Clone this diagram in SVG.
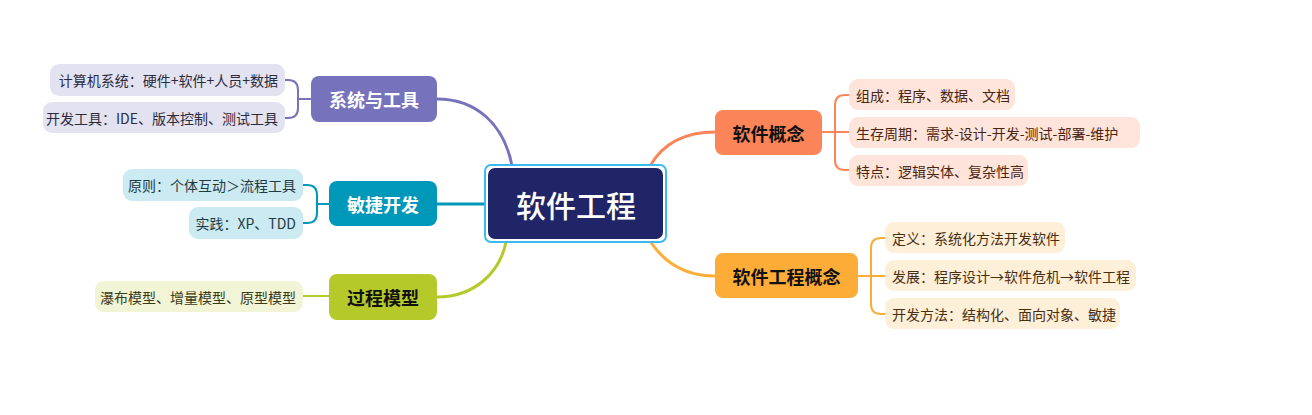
<svg xmlns="http://www.w3.org/2000/svg" width="1312" height="415" viewBox="0 0 1312 415">
<style>
text{font-family:"Noto Sans CJK SC","Noto Sans",sans-serif;text-anchor:middle;dominant-baseline:central}
.sub{font-size:14px}
.l{text-anchor:start}
.r{text-anchor:end}
.main{font-size:18px;font-weight:bold}
.conn{fill:none;stroke-width:3;stroke-linecap:round}
.br{fill:none;stroke-width:2}
</style>
<rect width="1312" height="415" fill="#ffffff"/>
<g id="connectors">
<path class="conn" stroke="#7672bc" d="M437,99 C476,99 504,124 512,166"/>
<path class="conn" stroke="#0098b8" d="M437,204 L487,204"/>
<path class="conn" stroke="#b6c92b" d="M437,297 C475,297 500,272 506,242"/>
<path class="conn" stroke="#fb8458" d="M650,166 C662,145 682,132 715,132"/>
<path class="conn" stroke="#fdac37" d="M650,241 C665,264 686,276 715,276"/>
<path class="br" stroke="#7672bc" d="M285,80 H288 Q298,80 298,90 V108 Q298,118 288,118 H285 M298,99 H311"/>
<path class="br" stroke="#0098b8" d="M303,185 H307 Q317,185 317,195 V213 Q317,223 307,223 H303 M317,204 H329"/>
<path class="br" stroke="#b6c92b" d="M303,296 H329"/>
<path class="br" stroke="#fb8458" d="M849,95 H845 Q835,95 835,105 V160 Q835,170 845,170 H849 M822,132 H849"/>
<path class="br" stroke="#fdac37" d="M885,238 H881 Q871,238 871,248 V304 Q871,314 881,314 H885 M858,276 H885"/>
</g>
<g id="center">
<rect x="485" y="165" width="181" height="77" rx="6" fill="#ffffff" stroke="#3cb9f0" stroke-width="2"/>
<rect x="488" y="168" width="175" height="71" rx="7" fill="#1f2566"/>
<text x="576" y="204" font-size="30" font-weight="500" fill="#ffffff">软件工程</text>
</g>
<g id="sys">
<rect x="311" y="76" width="126" height="46" rx="8" fill="#7672bc"/>
<text class="main" x="374" y="99" fill="#ffffff">系统与工具</text>
</g>
<g id="sys1">
<rect x="50" y="64" width="235" height="32" rx="9" fill="#e3e2f1"/>
<text class="sub r" x="278" y="80" fill="#2b2b3c">计算机系统：硬件+软件+人员+数据</text>
</g>
<g id="sys2">
<rect x="43" y="102" width="242" height="31" rx="9" fill="#e3e2f1"/>
<text class="sub r" x="278" y="117.5" fill="#2b2b3c">开发工具：IDE、版本控制、测试工具</text>
</g>
<g id="agile">
<rect x="329" y="181" width="108" height="45" rx="8" fill="#0098b8"/>
<text class="main" x="383" y="203.5" fill="#ffffff">敏捷开发</text>
</g>
<g id="agile1">
<rect x="123" y="169" width="180" height="32" rx="9" fill="#cceaf2"/>
<text class="sub r" x="296" y="185" fill="#1e3a42">原则：个体互动＞流程工具</text>
</g>
<g id="agile2">
<rect x="189" y="207" width="114" height="32" rx="9" fill="#cceaf2"/>
<text class="sub r" x="296" y="223" fill="#1e3a42">实践：XP、TDD</text>
</g>
<g id="process">
<rect x="329" y="274" width="108" height="46" rx="8" fill="#b6c92b"/>
<text class="main" x="383" y="297" fill="#111111">过程模型</text>
</g>
<g id="process1">
<rect x="95" y="281" width="208" height="31" rx="9" fill="#f1f4d5"/>
<text class="sub r" x="296" y="296.5" fill="#3a3a1a">瀑布模型、增量模型、原型模型</text>
</g>
<g id="concept">
<rect x="715" y="110" width="107" height="45" rx="8" fill="#fb8458"/>
<text class="main" x="768.5" y="132.5" fill="#111111">软件概念</text>
</g>
<g id="concept1">
<rect x="849" y="79" width="166" height="31" rx="9" fill="#fee4da"/>
<text class="sub l" x="856" y="94.5" fill="#4a2410">组成：程序、数据、文档</text>
</g>
<g id="concept2">
<rect x="849" y="117" width="291" height="31" rx="9" fill="#fee4da"/>
<text class="sub l" x="856" y="132.5" fill="#4a2410">生存周期：需求-设计-开发-测试-部署-维护</text>
</g>
<g id="concept3">
<rect x="849" y="155" width="179" height="31" rx="9" fill="#fee4da"/>
<text class="sub l" x="856" y="170.5" fill="#4a2410">特点：逻辑实体、复杂性高</text>
</g>
<g id="se">
<rect x="715" y="253" width="143" height="45" rx="8" fill="#fdac37"/>
<text class="main" x="786.5" y="275.5" fill="#111111">软件工程概念</text>
</g>
<g id="se1">
<rect x="885" y="222" width="180" height="31" rx="9" fill="#feefd9"/>
<text class="sub l" x="892" y="237.5" fill="#4a2e10">定义：系统化方法开发软件</text>
</g>
<g id="se2">
<rect x="885" y="260" width="251" height="31" rx="9" fill="#feefd9"/>
<text class="sub l" x="892" y="275.5" fill="#4a2e10">发展：程序设计→软件危机→软件工程</text>
</g>
<g id="se3">
<rect x="885" y="298" width="235" height="31" rx="9" fill="#feefd9"/>
<text class="sub l" x="892" y="313.5" fill="#4a2e10">开发方法：结构化、面向对象、敏捷</text>
</g>
</svg>
